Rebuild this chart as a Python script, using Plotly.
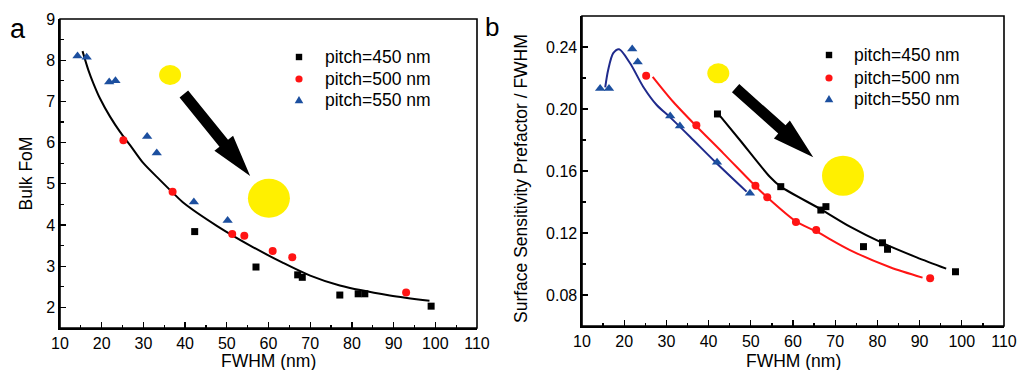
import plotly.graph_objects as go

# ---------------- data ----------------
# Panel a : Bulk FoM vs FWHM
a_450_x = [42.3, 57.0, 67.0, 68.1, 77.1, 81.5, 83.1, 99.0]
a_450_y = [3.84, 2.98, 2.79, 2.73, 2.30, 2.33, 2.33, 2.03]
a_500_x = [25.2, 37.0, 51.3, 54.2, 61.0, 65.7, 93.0]
a_500_y = [6.06, 4.81, 3.78, 3.74, 3.37, 3.22, 2.36]
a_550_x = [14.2, 16.4, 21.8, 23.3, 30.9, 33.2, 42.1, 50.2]
a_550_y = [8.10, 8.07, 7.47, 7.50, 6.15, 5.75, 4.56, 4.11]
a_fit_x = [15.4, 16.8, 18.0, 19.6, 22.0, 24.4, 26.8, 30.0, 34.0, 37.2, 39.6, 47.6, 55.6, 63.5, 70.0, 77.1, 89.1, 98.6]
a_fit_y = [8.22, 7.76, 7.44, 7.07, 6.63, 6.26, 5.94, 5.50, 5.09, 4.77, 4.54, 3.98, 3.50, 3.08, 2.77, 2.53, 2.29, 2.16]

# Panel b : Surface Sensitivity Prefactor / FWHM vs FWHM
b_450_x = [42.1, 57.1, 66.6, 67.8, 76.7, 81.2, 82.4, 98.5]
b_450_y = [0.1968, 0.1499, 0.1348, 0.1370, 0.1112, 0.1137, 0.1095, 0.0950]
b_500_x = [25.2, 37.1, 51.1, 53.9, 60.7, 65.5, 92.5]
b_500_y = [0.2215, 0.1895, 0.1505, 0.1430, 0.1271, 0.1219, 0.0908]
b_550_x = [14.3, 16.4, 21.9, 23.2, 30.9, 33.2, 42.0, 49.8]
b_550_y = [0.2133, 0.2133, 0.2387, 0.2303, 0.1955, 0.1890, 0.1656, 0.1456]
b_fit450_x = [42.7, 47.4, 54.5, 57.1, 66.6, 73.5, 81.4, 89.3, 96.3]
b_fit450_y = [0.1955, 0.1800, 0.1563, 0.1499, 0.1353, 0.1241, 0.1133, 0.1043, 0.0970]
b_fit500_x = [26.75, 31.6, 37.0, 43.5, 51.0, 53.9, 60.7, 65.5, 73.5, 83.0, 90.7]
b_fit500_y = [0.2208, 0.2047, 0.1892, 0.1714, 0.1505, 0.1430, 0.1275, 0.1210, 0.1090, 0.0979, 0.0912]
b_fit550_x = [15.5, 16.2, 17.4, 18.8, 21.4, 24.5, 27.7, 30.9, 35.6, 41.9, 49.0]
b_fit550_y = [0.2140, 0.2252, 0.2360, 0.2385, 0.2295, 0.2144, 0.2026, 0.1946, 0.1821, 0.1650, 0.1467]

legend_names = ["pitch=450 nm", "pitch=500 nm", "pitch=550 nm"]
x_ticks = [10, 20, 30, 40, 50, 60, 70, 80, 90, 100, 110]
a_y_ticks = [2, 3, 4, 5, 6, 7, 8, 9]
b_y_ticks = [0.08, 0.12, 0.16, 0.20, 0.24]
x_title = "FWHM (nm)"
a_y_title = "Bulk FoM"
b_y_title = "Surface Sensitivity Prefactor / FWHM"

# ---------------- styling ----------------
W, H = 1019, 370
FONT = "Liberation Sans, Arial, sans-serif"
BLACK = "#000000"
RED = "#ff1414"
BLUE_M = "#1c4f9f"
BLUE_L = "#1f2a8c"
YELLOW = "#fff000"
COLORS = [BLACK, RED, BLUE_M]

# plot areas in pixels
A_L, A_R, A_T, A_B = 60, 477, 19, 328
B_L, B_R, B_T, B_B = 582, 1004, 16, 326
A_XR, A_YR = [10, 110], [1.5, 9]
B_XR, B_YR = [10, 110], [0.06, 0.26]

fig = go.Figure()

def markers(x, y, sym, color, size, name, xa, ya):
    fig.add_trace(go.Scatter(x=x, y=y, mode="markers", name=name,
                             marker=dict(symbol=sym, color=color, size=size, line=dict(width=0)),
                             xaxis=xa, yaxis=ya, showlegend=False))

def curve(x, y, color, xa, ya, width=2):
    fig.add_trace(go.Scatter(x=x, y=y, mode="lines", line=dict(color=color, width=width, shape="spline", smoothing=0.8),
                             xaxis=xa, yaxis=ya, showlegend=False, hoverinfo="skip"))

curve(a_fit_x, a_fit_y, BLACK, "x", "y")
markers(a_450_x, a_450_y, "square", BLACK, 7, legend_names[0], "x", "y")
markers(a_500_x, a_500_y, "circle", RED, 8, legend_names[1], "x", "y")
markers(a_550_x, a_550_y, "triangle-up", BLUE_M, 9, legend_names[2], "x", "y")

curve(b_fit450_x, b_fit450_y, BLACK, "x2", "y2")
curve(b_fit500_x, b_fit500_y, RED, "x2", "y2")
curve(b_fit550_x, b_fit550_y, BLUE_L, "x2", "y2")
markers(b_450_x, b_450_y, "square", BLACK, 7, legend_names[0], "x2", "y2")
markers(b_500_x, b_500_y, "circle", RED, 8, legend_names[1], "x2", "y2")
markers(b_550_x, b_550_y, "triangle-up", BLUE_M, 9, legend_names[2], "x2", "y2")

# ---------------- helpers ----------------
def pap(px, py):
    return px / W, 1 - py / H

def scales(panel):
    if panel == "a":
        return (A_L, A_R, A_T, A_B, A_XR, A_YR)
    return (B_L, B_R, B_T, B_B, B_XR, B_YR)

def d2p(panel, x, y):
    l, r, t, b, xr, yr = scales(panel)
    return (l + (x - xr[0]) / (xr[1] - xr[0]) * (r - l),
            b - (y - yr[0]) / (yr[1] - yr[0]) * (b - t))

def p2d(panel, px, py):
    l, r, t, b, xr, yr = scales(panel)
    return (xr[0] + (px - l) / (r - l) * (xr[1] - xr[0]),
            yr[0] + (b - py) / (b - t) * (yr[1] - yr[0]))

def disc(panel, cx, cy, rx, ry):
    xa, ya = ("x", "y") if panel == "a" else ("x2", "y2")
    fig.add_shape(type="circle", xref=xa, yref=ya, xsizemode="pixel", ysizemode="pixel",
                  xanchor=cx, yanchor=cy, x0=-rx, x1=rx, y0=-ry, y1=ry,
                  fillcolor=YELLOW, line=dict(width=0), layer="above")

def arrow(panel, sx, sy, tx, ty, shaft=5.5, head=12, headlen=42):
    xa, ya = ("x", "y") if panel == "a" else ("x2", "y2")
    S = d2p(panel, sx, sy)
    T = d2p(panel, tx, ty)
    dx, dy = T[0] - S[0], T[1] - S[1]
    L = (dx * dx + dy * dy) ** 0.5
    ux, uy = dx / L, dy / L
    px_, py_ = uy, -ux
    Bx, By = T[0] - headlen * ux, T[1] - headlen * uy
    pts = [(S[0] + shaft * px_, S[1] + shaft * py_),
           (Bx + shaft * px_, By + shaft * py_),
           (Bx + head * px_, By + head * py_),
           T,
           (Bx - head * px_, By - head * py_),
           (Bx - shaft * px_, By - shaft * py_),
           (S[0] - shaft * px_, S[1] - shaft * py_)]
    dp = [p2d(panel, a, b) for a, b in pts]
    path = "M " + " L ".join(f"{a},{b}" for a, b in dp) + " Z"
    fig.add_shape(type="path", xref=xa, yref=ya, path=path, fillcolor=BLACK,
                  line=dict(width=0), layer="above")

def paper_path(pts, color):
    path = "M " + " L ".join(f"{pap(a, b)[0]},{pap(a, b)[1]}" for a, b in pts) + " Z"
    fig.add_shape(type="path", xref="paper", yref="paper", path=path, fillcolor=color,
                  line=dict(width=0), layer="above")

def legend_symbol(kind, cx, cy, color):
    if kind == "square":
        s = 3.2
        paper_path([(cx - s, cy - s), (cx + s, cy - s), (cx + s, cy + s), (cx - s, cy + s)], color)
    elif kind == "circle":
        x0, y0 = pap(cx - 3.6, cy + 3.6)
        x1, y1 = pap(cx + 3.6, cy - 3.6)
        fig.add_shape(type="circle", xref="paper", yref="paper", x0=x0, y0=y0, x1=x1, y1=y1,
                      fillcolor=color, line=dict(width=0), layer="above")
    else:
        paper_path([(cx - 4.3, cy + 3.3), (cx + 4.3, cy + 3.3), (cx, cy - 4.0)], color)

annotations = []

def label(text, px, py, size, angle=0, xanchor="center"):
    x, y = pap(px, py)
    annotations.append(dict(text=text, x=x, y=y, xref="paper", yref="paper", showarrow=False,
                            xanchor=xanchor, yanchor="middle", textangle=angle,
                            font=dict(family=FONT, size=size, color=BLACK)))

def legend_block(sym_x, text_x, rows):
    kinds = ["square", "circle", "triangle"]
    for name, kind, color, ry in zip(legend_names, kinds, COLORS, rows):
        legend_symbol(kind, sym_x, ry, color)
        label(name, text_x - 2, ry, 17.5, xanchor="left")

# ---------------- decorations ----------------
disc("a", 36.4, 7.64, 11, 10)
disc("a", 60.1, 4.65, 21, 19.5)
arrow("a", 39.7, 7.18, 55.6, 5.19)
disc("b", 42.3, 0.223, 11, 10)
disc("b", 71.85, 0.157, 21, 20)
arrow("b", 46.4, 0.2134, 64.8, 0.1688)

legend_block(299, 325, [57, 79, 100])
legend_block(829, 854, [55, 78, 99])

# plot frames
for xr_, yr_ in (("x domain", "y domain"), ("x2 domain", "y2 domain")):
    fig.add_shape(type="rect", xref=xr_, yref=yr_, x0=0, x1=1, y0=0, y1=1,
                  line=dict(color=BLACK, width=1.6), fillcolor="rgba(0,0,0,0)", layer="above")

label("a", 17.5, 29, 27)
label("b", 492, 27, 26)
label(x_title, (A_L + A_R) / 2, 361, 17.5)
label(x_title, (B_L + B_R) / 2, 361, 17.5)
label(a_y_title, 25, (A_T + A_B) / 2, 17.5, -90)
label(b_y_title, 521, 179, 17.5, -90)

# ---------------- axes ----------------
tickfont = dict(family=FONT, size=16, color=BLACK)

def minor(dt, t0):
    return dict(dtick=dt, tick0=t0, ticks="inside", ticklen=3.5, tickwidth=1.2, tickcolor=BLACK, showgrid=False)

def xaxis(dom, anchor, extra=None):
    d = dict(domain=dom, range=[10, 110], tickvals=x_ticks, ticks="inside", ticklen=6,
             tickwidth=1.3, tickcolor=BLACK, showline=True, linecolor=BLACK, linewidth=1.6,
             showgrid=False, zeroline=False, tickfont=tickfont, anchor=anchor,
             automargin=False, minor=minor(5, 10), fixedrange=True)
    if extra:
        d.update(extra)
    return d

def yaxis(dom, rng, tv, fmt, mdt, mt0, anchor, extra=None):
    d = dict(domain=dom, range=rng, tickvals=tv, tickformat=fmt, ticks="inside", ticklen=6,
             tickwidth=1.3, tickcolor=BLACK, showline=True, linecolor=BLACK, linewidth=1.6,
             showgrid=False, zeroline=False, tickfont=tickfont, anchor=anchor,
             automargin=False, minor=minor(mdt, mt0), fixedrange=True)
    if extra:
        d.update(extra)
    return d

a_xdom, b_xdom = [A_L / W, A_R / W], [B_L / W, B_R / W]
a_ydom, b_ydom = [1 - A_B / H, 1 - A_T / H], [1 - B_B / H, 1 - B_T / H]

fig.update_layout(
    template="none",
    width=W, height=H, margin=dict(l=0, r=0, t=0, b=0, autoexpand=False),
    paper_bgcolor="white", plot_bgcolor="white",
    font=dict(family=FONT, color=BLACK),
    showlegend=False,
    xaxis=xaxis(a_xdom, "y"),
    yaxis=yaxis(a_ydom, A_YR, a_y_ticks, "d", 0.5, 1.5, "x"),
    xaxis2=xaxis(b_xdom, "y2"),
    yaxis2=yaxis(b_ydom, B_YR, b_y_ticks, ".2f", 0.02, 0.06, "x2"),
    # mirrored tick axes (top / right)
    xaxis3=xaxis(a_xdom, "y", dict(overlaying="x", side="top", showticklabels=False)),
    yaxis3=yaxis(a_ydom, A_YR, a_y_ticks, "d", 0.5, 1.5, "x",
                 dict(overlaying="y", side="right", showticklabels=False)),
    xaxis4=xaxis(b_xdom, "y2", dict(overlaying="x2", side="top", showticklabels=False)),
    yaxis4=yaxis(b_ydom, B_YR, b_y_ticks, ".2f", 0.02, 0.06, "x2",
                 dict(overlaying="y2", side="right", showticklabels=False)),
    annotations=annotations,
)

fig.write_html("out.html", config={"displayModeBar": False, "staticPlot": True},
               post_script="document.body.style.margin='0px';document.body.style.overflow='hidden';")
